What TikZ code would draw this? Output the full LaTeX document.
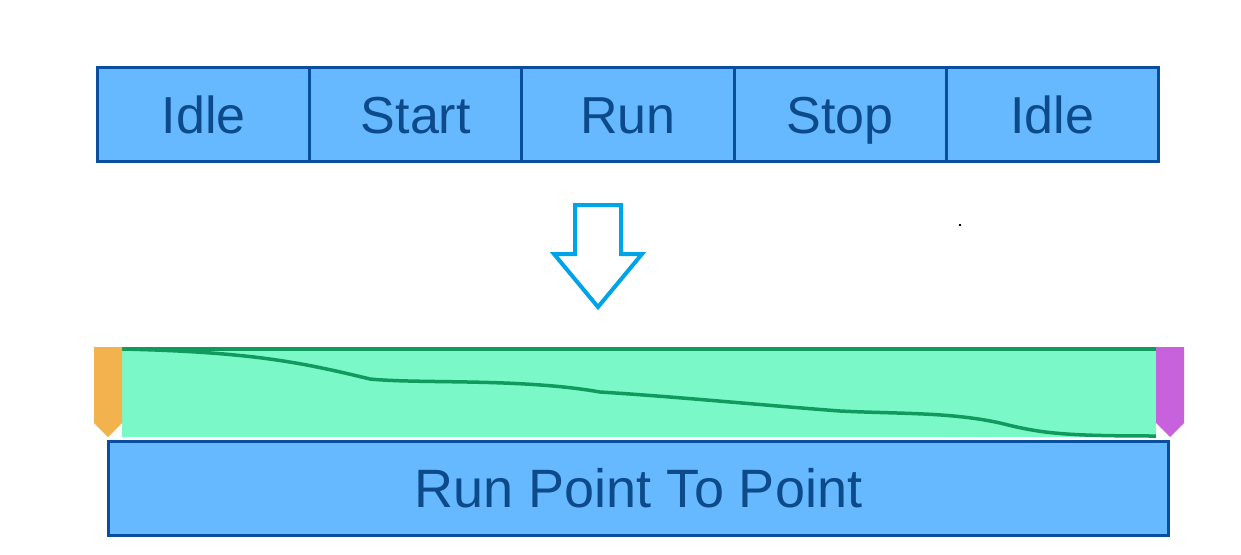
\documentclass[tikz,border=0pt]{standalone}
\usepackage{fontspec}
\setmainfont{Liberation Sans}
\definecolor{cellfill}{HTML}{66B8FF}
\definecolor{celldraw}{HTML}{0A4E9E}
\definecolor{celltext}{HTML}{0C4A8A}
\definecolor{arrowc}{HTML}{00A2E8}
\definecolor{greenfill}{HTML}{7AF8C8}
\definecolor{greenline}{HTML}{119A5E}
\definecolor{orangetab}{HTML}{F2B24E}
\definecolor{purpletab}{HTML}{C862DC}
\begin{document}
\begin{tikzpicture}[x=1pt,y=-1pt,
  cell/.style={draw=celldraw,line width=3pt,fill=cellfill,minimum width=212.2pt,minimum height=94pt,inner sep=0pt,anchor=north west,text=celltext,font=\fontsize{52}{60}\selectfont,text height=37.5pt,text depth=0pt},
]
\useasboundingbox (0,0) rectangle (1241,554);
\fill[white] (0,0) rectangle (1241,554);
% top row
\node[cell] (c1) at (96,66) {Idle};
\node[cell] (c2) at (308.2,66) {Start};
\node[cell] (c3) at (520.4,66) {Run};
\node[cell] (c4) at (732.6,66) {Stop};
\node[cell] (c5) at (944.8,66) {Idle};
% hollow arrow
\draw[arrowc,line width=4pt,line join=miter] (575,205) -- (621,205) -- (621,254) -- (642,254) -- (598,307) -- (554,254) -- (575,254) -- cycle;
% green band
\fill[greenfill] (122,348) rectangle (1156,437);
\draw[greenline,line width=3.5pt] (122,349) -- (1156,349);
\draw[greenline,line width=3.5pt] (122,349) .. controls (250,352) and (300,362) .. (370,379)
  .. controls (420,384) and (520,378) .. (600,392)
  .. controls (680,397) and (760,405) .. (840,411)
  .. controls (900,414) and (950,412) .. (1000,423)
  .. controls (1040,433) and (1060,436) .. (1156,436);
% tabs
\fill[orangetab] (94,347) -- (122,347) -- (122,423) -- (108,437) -- (94,423) -- cycle;
\fill[purpletab] (1156,347) -- (1184,347) -- (1184,423) -- (1170,437) -- (1156,423) -- cycle;
% bottom box
\node[cell,minimum width=1060pt,minimum height=94pt,font=\fontsize{54}{60}\selectfont,text height=38.7pt] (p2p) at (107,440) {Run Point To Point};
% stray dot
\fill[black] (959,224) rectangle (960.5,225.5);
\end{tikzpicture}
\end{document}
